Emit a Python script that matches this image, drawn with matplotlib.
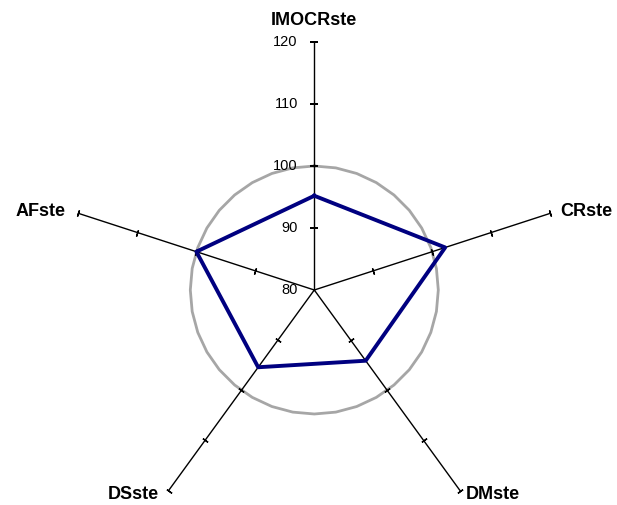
import numpy as np
import matplotlib
matplotlib.use("Agg")
import matplotlib.pyplot as plt

plt.rcParams["font.family"] = ["Liberation Sans", "DejaVu Sans"]

categories = ["IMOCRste", "CRste", "DMste", "DSste", "AFste"]
values = [95.2, 102.2, 94.1, 95.4, 100.0]
ref_level = 100
r_ticks = [80, 90, 100, 110, 120]
r_min, r_max = 80, 120

W, H = 617, 505
fig = plt.figure(figsize=(W / 100, H / 100), dpi=100)
cx, cy, rad = 314.3, 290, 248
ax = fig.add_axes([(cx - rad) / W, (H - cy - rad) / H, 2 * rad / W, 2 * rad / H],
                  projection="polar")
ax.set_theta_offset(np.pi / 2)
ax.set_theta_direction(-1)
ax.set_rlim(r_min, r_max)
ax.axis("off")

n = len(categories)
angles = [2 * np.pi * i / n for i in range(n)]

# spokes with small cross ticks
for i, th in enumerate(angles):
    ax.plot([th, th], [r_min, r_max], color="black", lw=1, clip_on=False, zorder=2)
    phi = np.degrees(th)
    ax.plot([th] * (len(r_ticks) - 1), r_ticks[1:], linestyle="none",
            marker=(2, 2, 90 - phi), markersize=5.5 if i == 0 else 4.5,
            markeredgewidth=1.2 if i == 0 else 1, markeredgecolor="black",
            clip_on=False, zorder=2)

# reference circle
circ_t = np.linspace(0, 2 * np.pi, 37)
ax.plot(circ_t, [ref_level] * len(circ_t), color="#a6a6a6", lw=2, zorder=1, clip_on=False)

# series
ax.plot(angles + angles[:1], values + values[:1], color="#000080", lw=2.8,
        zorder=3, clip_on=False)

# radial tick labels
for r in r_ticks:
    ax.annotate(str(r), xy=(0, r), xytext=(-16.5, 0), textcoords="offset pixels",
                ha="right", va="center", fontsize=10.5, annotation_clip=False)

# category labels
offsets = [(0, 22, "center", "center"), (10, 2, "left", "center"),
           (6, -4, "left", "center"), (-10, -4, "right", "center"),
           (-13, 2, "right", "center")]
for th, lab, (dx, dy, ha, va) in zip(angles, categories, offsets):
    ax.annotate(lab, xy=(th, r_max), xytext=(dx, dy), textcoords="offset pixels",
                ha=ha, va=va, fontsize=13, fontweight="bold", annotation_clip=False)

fig.savefig("out.png", dpi=100)
